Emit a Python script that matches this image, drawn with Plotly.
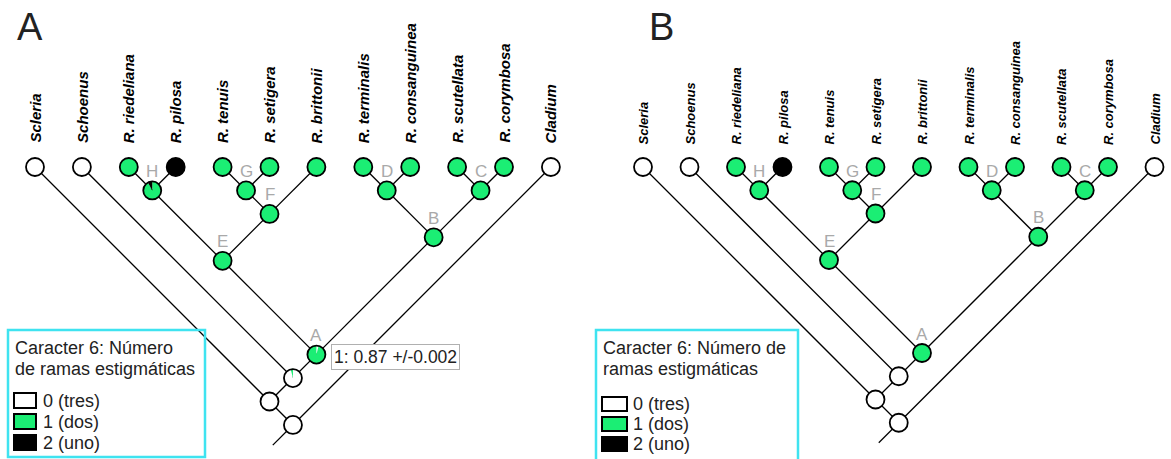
import numpy as np
import plotly.graph_objects as go

# ---------------- data ----------------
taxa = ["Scleria", "Schoenus", "R. riedeliana", "R. pilosa", "R. tenuis",
        "R. setigera", "R. brittonii", "R. terminalis", "R. consanguinea",
        "R. scutellata", "R. corymbosa", "Cladium"]
tip_states = [0, 0, 1, 2, 1, 1, 1, 1, 1, 1, 1, 0]

# internal nodes: (id, left child, right child, shown label)
internal_nodes = [
    ("H", "R. riedeliana", "R. pilosa", "H"),
    ("G", "R. tenuis", "R. setigera", "G"),
    ("F", "G", "R. brittonii", "F"),
    ("E", "H", "F", "E"),
    ("D", "R. terminalis", "R. consanguinea", "D"),
    ("C", "R. scutellata", "R. corymbosa", "C"),
    ("B", "D", "C", "B"),
    ("A", "E", "B", "A"),
    ("n1", "Schoenus", "A", ""),
    ("n2", "Scleria", "n1", ""),
    ("root", "n2", "Cladium", ""),
]

# state probabilities at internal nodes [state0, state1, state2]
probs_A = {"H": [0, 0.92, 0.08], "G": [0, 1, 0], "F": [0, 1, 0], "E": [0, 1, 0],
           "D": [0, 1, 0], "C": [0, 1, 0], "B": [0, 1, 0], "A": [0.04, 0.96, 0],
           "n1": [0.96, 0.04, 0], "n2": [1, 0, 0], "root": [1, 0, 0]}
probs_B = {"H": [0, 1, 0], "G": [0, 1, 0], "F": [0, 1, 0], "E": [0, 1, 0],
           "D": [0, 1, 0], "C": [0, 1, 0], "B": [0, 1, 0], "A": [0, 1, 0],
           "n1": [1, 0, 0], "n2": [1, 0, 0], "root": [1, 0, 0]}

state_names = ["0 (tres)", "1 (dos)", "2 (uno)"]
state_colors = ["#ffffff", "#1bee74", "#000000"]
tooltip_text = "1: 0.87 +/-0.002"

legend_title_A = ["Caracter 6: Número", "de ramas estigmáticas"]
legend_title_B = ["Caracter 6: Número de", "ramas estigmáticas"]

FONT = "Liberation Sans, Arial, sans-serif"
W, H = 1171, 459

fig = go.Figure()
annotations = []
shapes = []


def layout_tree(x0, dx, ytip):
    pos = {}
    for i, t in enumerate(taxa):
        pos[t] = (x0 + i * dx, ytip, i, i)
    for nid, l, r, _ in internal_nodes:
        lo, hi = pos[l][2], pos[r][3]
        pos[nid] = (x0 + (lo + hi) / 2 * dx, ytip + (hi - lo) * dx / 2, lo, hi)
    return pos


def wedge_paths(cx, cy, fracs, r):
    out = [[] for _ in fracs]
    a0 = 0.0
    for k, f in enumerate(fracs):
        if f <= 0:
            continue
        a1 = a0 + 360.0 * f
        n = max(int(abs(a1 - a0) / 4) + 2, 3)
        th = np.radians(np.linspace(a0, a1, n))
        xs = [cx] + list(cx + r * np.sin(th)) + [cx, None]
        ys = [cy] + list(cy - r * np.cos(th)) + [cy, None]
        out[k] = (xs, ys)
        a0 = a1
    return out


def draw_panel(x0, dx, ytip, probs, tip_font, label_bottom, tooltip=False):
    pos = layout_tree(x0, dx, ytip)
    # branches
    lx, ly = [], []
    for nid, l, r, _ in internal_nodes:
        for c in (l, r):
            lx += [pos[nid][0], pos[c][0], None]
            ly += [pos[nid][1], pos[c][1], None]
    rx, ry = pos["root"][0], pos["root"][1]
    stem = dx * 0.43
    lx += [rx, rx - stem, None]
    ly += [ry, ry + stem, None]
    fig.add_trace(go.Scatter(x=lx, y=ly, mode="lines",
                             line=dict(color="black", width=1.3),
                             hoverinfo="skip", showlegend=False))
    # node fills (pies)
    fills = [([], []) for _ in state_colors]
    all_nodes = [(t, [1.0 if s == k else 0.0 for k in range(3)])
                 for t, s in zip(taxa, tip_states)]
    all_nodes += [(nid, probs[nid]) for nid, *_ in internal_nodes]
    for nid, fr in all_nodes:
        cx, cy = pos[nid][0], pos[nid][1]
        for k, p in enumerate(wedge_paths(cx, cy, fr, 9.3)):
            if p:
                fills[k][0].extend(p[0])
                fills[k][1].extend(p[1])
    for k, (fx, fy) in enumerate(fills):
        if fx:
            fig.add_trace(go.Scatter(x=fx, y=fy, mode="lines", fill="toself",
                                     fillcolor=state_colors[k],
                                     line=dict(width=0, color=state_colors[k]),
                                     hoverinfo="skip", showlegend=False))
    # outlines
    fig.add_trace(go.Scatter(
        x=[pos[n][0] for n, _ in all_nodes], y=[pos[n][1] for n, _ in all_nodes],
        mode="markers",
        marker=dict(size=18, color="rgba(0,0,0,0)", line=dict(color="black", width=1.8)),
        hoverinfo="skip", showlegend=False))
    # tip labels
    for t in taxa:
        annotations.append(dict(x=pos[t][0], y=label_bottom, text="<b><i>%s</i></b>" % t,
                                textangle=-90, showarrow=False, xanchor="center",
                                yanchor="bottom", font=dict(family=FONT, size=tip_font,
                                                            color="#000")))
    # node labels
    for nid, _, _, lab in internal_nodes:
        if lab:
            annotations.append(dict(x=pos[nid][0], y=pos[nid][1] - 19, text=lab,
                                    showarrow=False, xanchor="center", yanchor="middle",
                                    font=dict(family=FONT, size=17, color="#a9a9a9")))
    if tooltip:
        annotations.append(dict(x=pos["A"][0] + 15, y=pos["A"][1] + 2, text=tooltip_text,
                                showarrow=False, xanchor="left", yanchor="middle",
                                bgcolor="white", bordercolor="#b0b0b0", borderwidth=1,
                                borderpad=2,
                                font=dict(family=FONT, size=17.5, color="#222")))
    return pos


draw_panel(35, 46.9, 167, probs_A, 15, 145, tooltip=True)
draw_panel(643, 46.5, 167, probs_B, 13, 147)

# panel letters
annotations.append(dict(x=30, y=27, text="A", showarrow=False, xanchor="center",
                        yanchor="middle", font=dict(family=FONT, size=38, color="#222")))
annotations.append(dict(x=661, y=27, text="B", showarrow=False, xanchor="center",
                        yanchor="middle", font=dict(family=FONT, size=38, color="#222")))


def draw_legend(bx0, bx1, by0, by1, title_lines, tx, sw_x0, sw_x1, sw_y, sw_h, txt_x):
    shapes.append(dict(type="rect", x0=bx0, x1=bx1, y0=by0, y1=by1, xref="x", yref="y",
                       line=dict(color="#3fe3f0", width=2.5), fillcolor="rgba(0,0,0,0)"))
    for i, line in enumerate(title_lines):
        annotations.append(dict(x=tx, y=348 + i * 21, text=line, showarrow=False,
                                xanchor="left", yanchor="middle",
                                font=dict(family=FONT, size=18, color="#222")))
    for k, name in enumerate(state_names):
        y0 = sw_y[k]
        shapes.append(dict(type="rect", x0=sw_x0, x1=sw_x1, y0=y0, y1=y0 + sw_h,
                           xref="x", yref="y", fillcolor=state_colors[k],
                           line=dict(color="black", width=2)))
        annotations.append(dict(x=txt_x, y=y0 + sw_h / 2, text=name, showarrow=False,
                                xanchor="left", yanchor="middle",
                                font=dict(family=FONT, size=18, color="#222")))


draw_legend(8, 205, 330, 457, legend_title_A, 13, 14, 36, [393, 414, 435], 15, 41)
draw_legend(596, 798, 330, 470, legend_title_B, 601, 602, 627, [397, 417, 437], 14, 631)

fig.update_layout(
    width=W, height=H, margin=dict(l=0, r=0, t=0, b=0),
    paper_bgcolor="white", plot_bgcolor="white",
    xaxis=dict(range=[0, W], visible=False, fixedrange=True),
    yaxis=dict(range=[H, 0], visible=False, fixedrange=True),
    annotations=annotations, shapes=shapes, showlegend=False,
)
fig.write_html("out.html", config={"displayModeBar": False},
               post_script="document.body.style.margin='0';document.body.style.overflow='hidden';")
